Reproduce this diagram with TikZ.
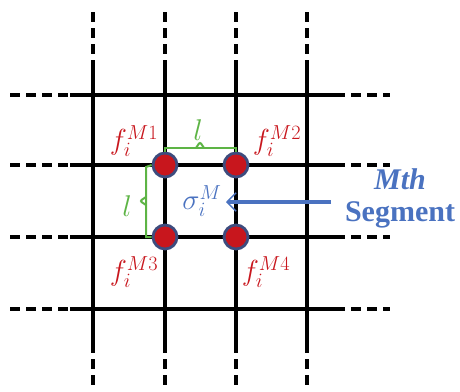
\RequirePackage{fix-cm}
\documentclass[tikz,border=0pt]{standalone}
\usepackage{amsmath}
\usepackage{fontspec}
\setmainfont{Liberation Serif}
\usepackage{xcolor}
\definecolor{ptred}{HTML}{C8161D}
\definecolor{ptrim}{HTML}{3D4C7E}
\definecolor{lgreen}{HTML}{5DB445}
\definecolor{segblue}{HTML}{4A72C0}
\usetikzlibrary{arrows.meta,positioning,calc}
\tikzset{
  >={Straight Barb[length=3.2mm,width=6.5mm,line width=1.4pt]},
  gridln/.style ={draw=black,line width=3.6pt},
  griddash/.style={draw=black,line width=3.6pt,dash pattern=on 10pt off 6pt},
  dot/.style    ={circle,draw=ptrim,fill=ptred,line width=2.8pt,
                  minimum size=24pt,inner sep=0pt},
  flbl/.style   ={text=ptred,font=\fontsize{29}{34}\selectfont,inner sep=0pt},
  brk/.style    ={draw=lgreen,line width=2pt},
  llbl/.style   ={text=lgreen,font=\fontsize{30}{34}\selectfont,inner sep=0pt},
  seglbl/.style ={text=segblue,font=\fontsize{30}{34}\selectfont\bfseries,
                  align=center,inner sep=0pt},
}

\begin{document}
\begin{tikzpicture}[x=1pt,y=-1pt]
\useasboundingbox (0,0) rectangle (460,391);
% grid lines
\foreach \c in {93,165,236,307}
 {\draw[griddash] (\c,12) -- (\c,65);
  \draw[gridln] (\c,65) -- (\c,343);
  \draw[griddash] (\c,343) -- (\c,390);}
\foreach \c in {95,165,237,309}
 {\draw[griddash] (10,\c) -- (70,\c);
  \draw[gridln] (70,\c) -- (335,\c);
  \draw[griddash] (335,\c) -- (390,\c);}

%================= corner points of the M-th segment
\node[dot] (p1) at (165,165) {};
\node[dot] (p2) at (236,165) {};
\node[dot] (p3) at (165,237) {};
\node[dot] (p4) at (236,237) {};
\node[flbl] (f1) at (134,141) {$f_i^{M1}$};
\node[flbl] (f2) at (277,141) {$f_i^{M2}$};
\node[flbl] (f3) at (134,272) {$f_i^{M3}$};
\node[flbl] (f4) at (266,272) {$f_i^{M4}$};

%================= side length brackets
\draw[brk] (p1.north) -- (165,148) -- (236,148) -- (p2.north);
\draw[brk,rounded corners=2pt] (196,148) -- (200,142) -- (204,148);
\node[llbl] (l1) at (198,130) {$l$};
\draw[brk] (p1.west) -- (146,167) -- (146,237) -- (p3.west);
\draw[brk,rounded corners=2pt] (146,197) -- (140,201) -- (146,205);
\node[llbl] (l2) at (127,206) {$l$};

%================= segment label
\node[text=segblue,font=\fontsize{29}{34}\selectfont,inner sep=0pt] (sig) at (202,201) {$\sigma_i^M$};
\node[seglbl] (seg) at (400,198) {\textit{Mth}\\[-2pt]Segment};
\coordinate (tail) at (331,202);
\draw[->,draw=segblue,line width=4pt] (tail) -- (226,202);
\end{tikzpicture}
\end{document}
